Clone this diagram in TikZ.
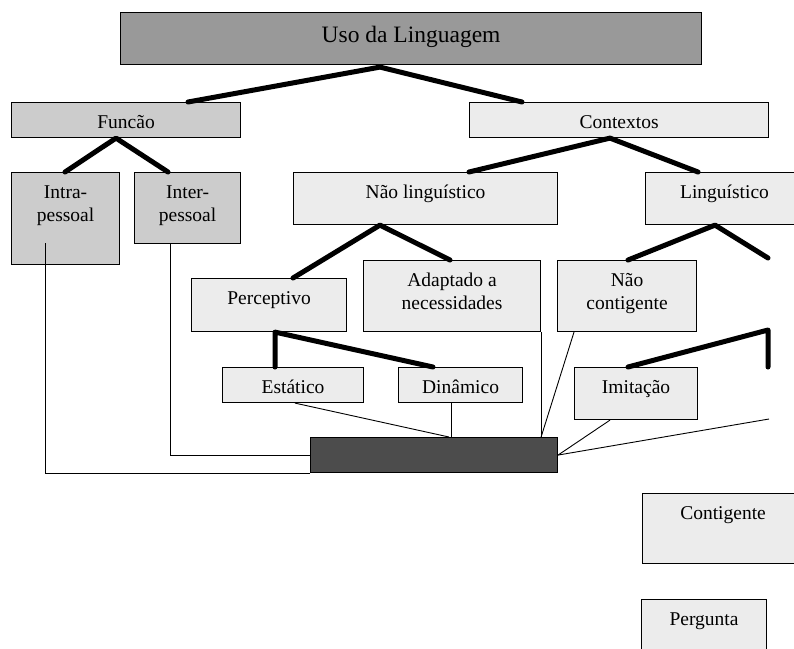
\documentclass[tikz,border=0pt]{standalone}
\usepackage{fontspec}
\setmainfont{Liberation Serif}
\usetikzlibrary{calc}
\definecolor{gTop}{gray}{0.60}
\definecolor{gMid}{gray}{0.80}
\definecolor{gLight}{gray}{0.925}
\definecolor{gDark}{gray}{0.30}
\newcommand\boxtext[1]{\begin{tabular}[t]{@{}c@{}}#1\end{tabular}}
\tikzset{
  box/.style={draw=black, line width=1.1pt, inner sep=0pt, anchor=north west},
  lbl/.style={anchor=base, inner sep=0pt, font=\fontsize{19.5}{23}\selectfont},
  trunk/.style={line width=5pt, line cap=round, line join=round},
  thinline/.style={line width=0.9pt}
}
\begin{document}
\begin{tikzpicture}[x=1pt, y=-1pt]
\clip (0,0) rectangle (794,648);
\fill[white] (0,0) rectangle (794,648);
% boxes
\node[box, fill=gTop, minimum width=581pt, minimum height=52pt] (uso) at (120,12) {};
\node[lbl, font=\fontsize{23.5}{27}\selectfont] (uso-t) at ([yshift=-30pt]uso.north) {\boxtext{Uso da Linguagem}};
\node[box, fill=gMid, minimum width=229pt, minimum height=35pt] (fun) at (11,102) {};
\node[lbl] (fun-t) at ([yshift=-26pt]fun.north) {\boxtext{Funcão}};
\node[box, fill=gLight, minimum width=299pt, minimum height=35pt] (ctx) at (469,102) {};
\node[lbl] (ctx-t) at ([yshift=-26pt]ctx.north) {\boxtext{Contextos}};
\node[box, fill=gMid, minimum width=108pt, minimum height=92pt] (intra) at (11,172) {};
\node[lbl] (intra-t) at ([yshift=-26pt]intra.north) {\boxtext{Intra-\\pessoal}};
\node[box, fill=gMid, minimum width=106pt, minimum height=71pt] (inter) at (134,172) {};
\node[lbl] (inter-t) at ([yshift=-26pt]inter.north) {\boxtext{Inter-\\pessoal}};
\node[box, fill=gLight, minimum width=264pt, minimum height=52pt] (nling) at (293,172) {};
\node[lbl] (nling-t) at ([yshift=-26pt]nling.north) {\boxtext{Não linguístico}};
\node[box, fill=gLight, minimum width=158pt, minimum height=52pt] (ling) at (645,172) {};
\node[lbl] (ling-t) at ([yshift=-26pt]ling.north) {\boxtext{Linguístico}};
\node[box, fill=gLight, minimum width=155pt, minimum height=53pt] (perc) at (191,278) {};
\node[lbl] (perc-t) at ([yshift=-26pt]perc.north) {\boxtext{Perceptivo}};
\node[box, fill=gLight, minimum width=177pt, minimum height=71pt] (adapt) at (363,260) {};
\node[lbl] (adapt-t) at ([yshift=-26pt]adapt.north) {\boxtext{Adaptado a\\necessidades}};
\node[box, fill=gLight, minimum width=139pt, minimum height=71pt] (ncont) at (557,260) {};
\node[lbl] (ncont-t) at ([yshift=-26pt]ncont.north) {\boxtext{Não\\contigente}};
\node[box, fill=gLight, minimum width=141pt, minimum height=35pt] (esta) at (222,367) {};
\node[lbl] (esta-t) at ([yshift=-26pt]esta.north) {\boxtext{Estático}};
\node[box, fill=gLight, minimum width=124pt, minimum height=35pt] (dina) at (398,367) {};
\node[lbl] (dina-t) at ([yshift=-26pt]dina.north) {\boxtext{Dinâmico}};
\node[box, fill=gLight, minimum width=123pt, minimum height=52pt] (imit) at (574,367) {};
\node[lbl] (imit-t) at ([yshift=-26pt]imit.north) {\boxtext{Imitação}};
\node[box, fill=gDark, minimum width=247pt, minimum height=35pt] (dark) at (310,437) {};
\node[box, fill=gLight, minimum width=161pt, minimum height=70pt] (cont) at (642,493) {};
\node[lbl] (cont-t) at ([yshift=-26pt]cont.north) {\boxtext{Contigente}};
\node[box, fill=gLight, minimum width=125pt, minimum height=70pt] (perg) at (641,599) {};
\node[lbl] (perg-t) at ([yshift=-26pt]perg.north) {\boxtext{Pergunta}};
% free ends
\coordinate (lingR) at (768,258);
\coordinate (imitK) at (768,330);
\coordinate (imitE) at (768,367);
\coordinate (freeE) at (769,419);
% thin connectors
\draw[thinline] ([xshift=34pt,yshift=22pt]intra.south west) |- (dark.south west);
\draw[thinline] ([xshift=36pt]inter.south west) |- (dark.west);
\draw[thinline] ([xshift=73pt]esta.south west) -- ([xshift=139pt]dark.north west);
\draw[thinline] ([xshift=53pt]dina.south west) coordinate (dn) -- (dn |- dark.north);
\draw[thinline] (adapt.south east) -- (adapt.south east |- dark.north);
\draw[thinline] ([xshift=17pt]ncont.south west) -- (adapt.south east |- dark.north);
\draw[thinline] ([xshift=36pt]imit.south west) -- (dark.east);
\draw[thinline] (dark.east) -- (freeE);
% thick connectors
\draw[trunk] ([xshift=177pt]fun.north west) -- ([xshift=260pt,yshift=-2pt]uso.south west) -- ([xshift=53pt]ctx.north west);
\draw[trunk] ([xshift=54pt]intra.north west) -- ([xshift=105pt]fun.south west) -- ([xshift=34pt]inter.north west);
\draw[trunk] ([xshift=176pt]nling.north west) -- ([xshift=141pt]ctx.south west) -- ([xshift=53pt]ling.north west);
\draw[trunk] ([xshift=102pt]perc.north west) -- ([xshift=87pt]nling.south west) -- ([xshift=87pt]adapt.north west);
\draw[trunk] ([xshift=71pt]ncont.north west) -- ([xshift=70pt]ling.south west) -- (lingR);
\draw[trunk] ([xshift=53pt]esta.north west) -- ([xshift=84pt]perc.south west) -- ([xshift=35pt]dina.north west);
\draw[trunk] ([xshift=54pt]imit.north west) -- (imitK) -- (imitE);
\end{tikzpicture}
\end{document}
